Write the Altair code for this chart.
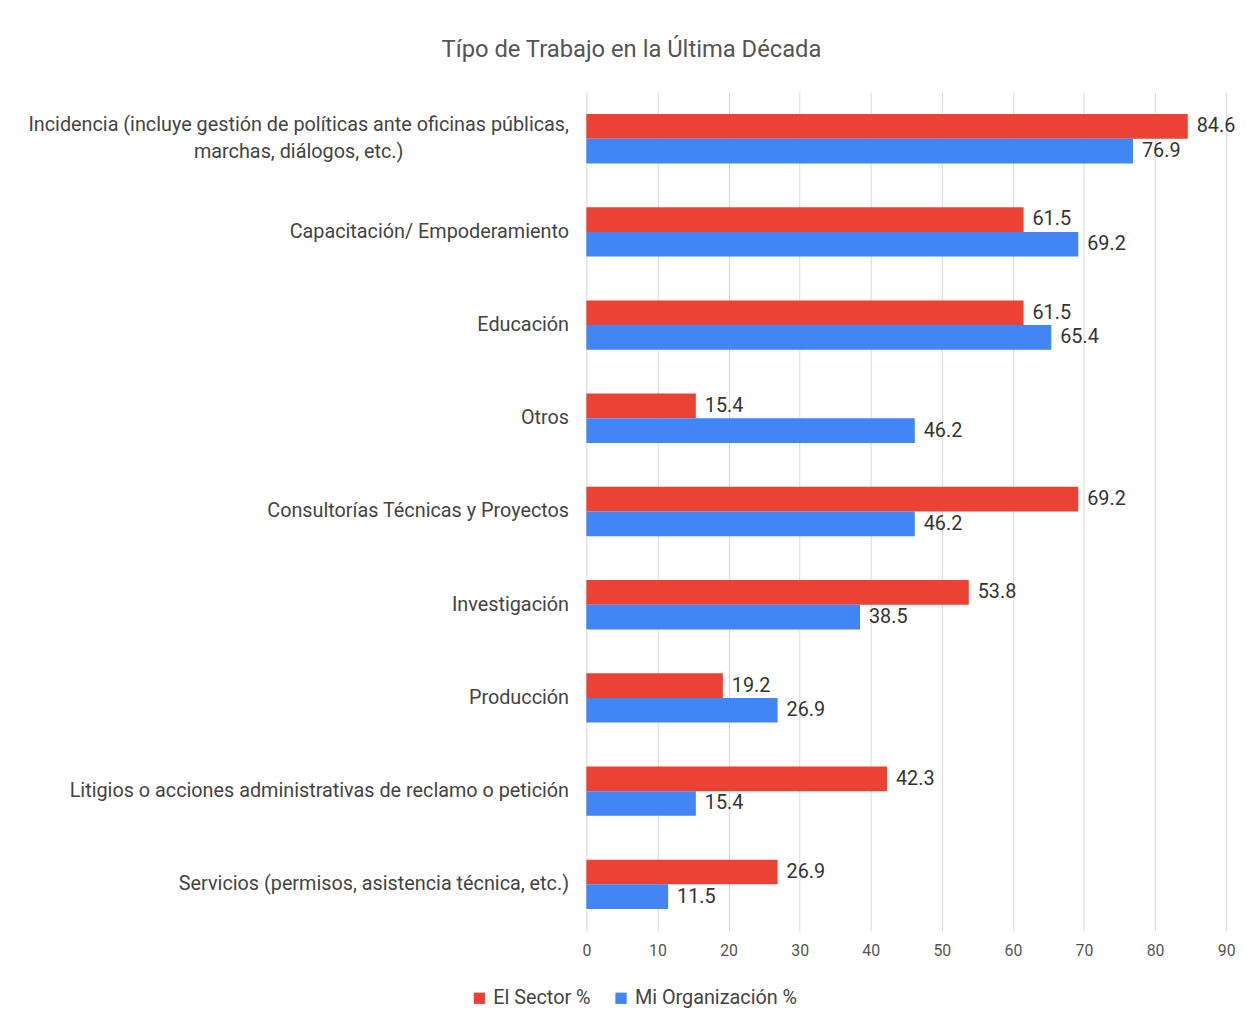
import altair as alt
import pandas as pd

categories = [
    "Incidencia (incluye gestión de políticas ante oficinas públicas,\nmarchas, diálogos, etc.)",
    "Capacitación/ Empoderamiento",
    "Educación",
    "Otros",
    "Consultorías Técnicas y Proyectos",
    "Investigación",
    "Producción",
    "Litigios o acciones administrativas de reclamo o petición",
    "Servicios (permisos, asistencia técnica, etc.)",
]
series = ["El Sector %", "Mi Organización %"]
sector_vals = [84.6, 61.5, 61.5, 15.4, 69.2, 53.8, 19.2, 42.3, 26.9]
org_vals = [76.9, 69.2, 65.4, 46.2, 46.2, 38.5, 26.9, 15.4, 11.5]
x_ticks = [0, 10, 20, 30, 40, 50, 60, 70, 80, 90]

rows = []
for c, s, o in zip(categories, sector_vals, org_vals):
    rows.append({"cat": c, "serie": series[0], "val": s})
    rows.append({"cat": c, "serie": series[1], "val": o})
df = pd.DataFrame(rows)

FONT = "Roboto"
multi_test = "indexof(datum.value, 'Incidencia') == 0"

y_enc = alt.Y("cat:N", sort=categories, title=None,
              scale=alt.Scale(paddingInner=0.47, paddingOuter=0.235),
              axis=alt.Axis(labelExpr="split(datum.label, '\\n')", labelFontSize=20,
                            labelColor="#444",
                            labelPadding={"condition": {"test": multi_test, "value": 291}, "value": 18},
                            labelAlign={"condition": {"test": multi_test, "value": "center"}, "value": "right"},
                            labelOffset={"condition": {"test": multi_test, "value": -14}, "value": 0},
                            ticks=False, domain=False,
                            labelLineHeight=28, labelLimit=700))
yoff = alt.YOffset("serie:N", sort=series, scale=alt.Scale(paddingInner=0, paddingOuter=0))
x_enc = alt.X("val:Q", title=None,
              scale=alt.Scale(domain=[0, 90], nice=False),
              axis=alt.Axis(values=x_ticks, labelFontSize=16, labelColor="#555",
                            ticks=False, domain=False, gridColor="#d9d9d9",
                            labelPadding=12, grid=True, labelFlush=False))

bars = alt.Chart(df).mark_bar().encode(
    y=y_enc, yOffset=yoff, x=x_enc,
    color=alt.Color("serie:N", sort=series,
                    scale=alt.Scale(domain=series, range=["#EA4335", "#4285F4"]),
                    legend=alt.Legend(title=None, orient="none", direction="horizontal",
                                      legendX=-118, legendY=905, symbolType="square",
                                      symbolSize=130, labelFontSize=20, labelColor="#444",
                                      symbolStrokeWidth=0, columnPadding=20, labelOffset=4,
                                      labelLimit=400)),
)
labels = alt.Chart(df).mark_text(align="left", baseline="middle", dx=9, fontSize=20,
                                 color="#333", font=FONT).encode(
    y=alt.Y("cat:N", sort=categories), yOffset=yoff, x="val:Q",
    text=alt.Text("val:Q", format=".1f"),
)

chart = alt.layer(bars, labels).properties(
    width=646, height=847,
    padding={"top": 26, "left": 19, "right": 5, "bottom": 5},
    title=alt.TitleParams("Típo de Trabajo en la Última Década", fontSize=24,
                          fontWeight="normal", color="#555", font=FONT, anchor="middle",
                          frame="bounds", offset=30),
).configure(font=FONT).configure_view(stroke=None)

chart.save("out.html", embed_options={"renderer": "svg", "actions": False})
